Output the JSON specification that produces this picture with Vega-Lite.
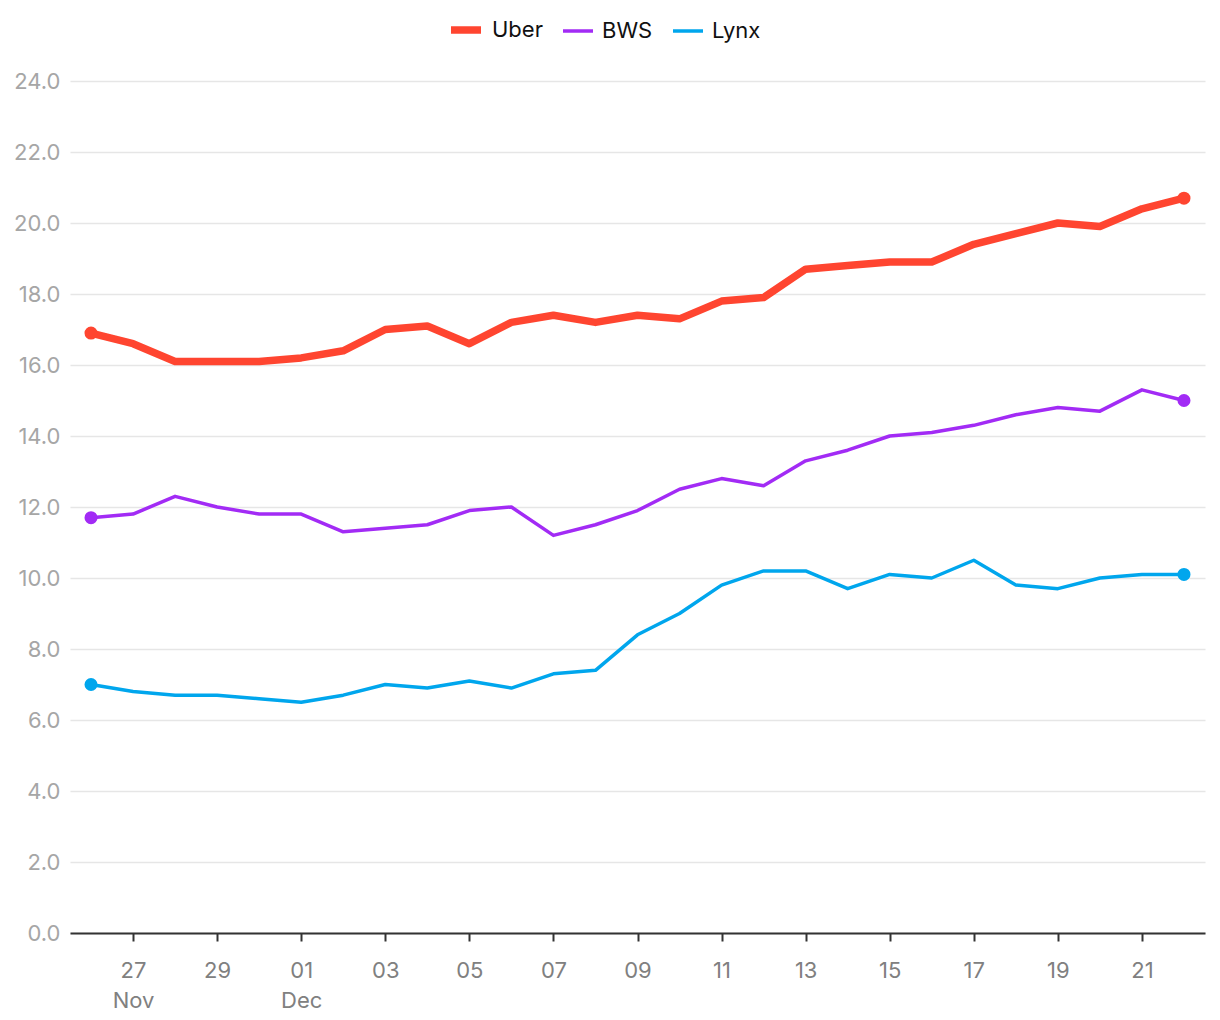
{
  "$schema": "https://vega.github.io/schema/vega-lite/v6.json",
  "width": 1135,
  "height": 852,
  "autosize": {"type": "none"},
  "padding": {"left": 70, "top": 81, "right": 15, "bottom": 87},
  "background": "white",
  "config": {
    "font": "Inter",
    "view": {"stroke": null}
  },
  "data": {
    "values": [
      {"date": "2023-11-26T00:00:00", "series": "Uber", "value": 16.9},
      {"date": "2023-11-27T00:00:00", "series": "Uber", "value": 16.6},
      {"date": "2023-11-28T00:00:00", "series": "Uber", "value": 16.1},
      {"date": "2023-11-29T00:00:00", "series": "Uber", "value": 16.1},
      {"date": "2023-11-30T00:00:00", "series": "Uber", "value": 16.1},
      {"date": "2023-12-01T00:00:00", "series": "Uber", "value": 16.2},
      {"date": "2023-12-02T00:00:00", "series": "Uber", "value": 16.4},
      {"date": "2023-12-03T00:00:00", "series": "Uber", "value": 17.0},
      {"date": "2023-12-04T00:00:00", "series": "Uber", "value": 17.1},
      {"date": "2023-12-05T00:00:00", "series": "Uber", "value": 16.6},
      {"date": "2023-12-06T00:00:00", "series": "Uber", "value": 17.2},
      {"date": "2023-12-07T00:00:00", "series": "Uber", "value": 17.4},
      {"date": "2023-12-08T00:00:00", "series": "Uber", "value": 17.2},
      {"date": "2023-12-09T00:00:00", "series": "Uber", "value": 17.4},
      {"date": "2023-12-10T00:00:00", "series": "Uber", "value": 17.3},
      {"date": "2023-12-11T00:00:00", "series": "Uber", "value": 17.8},
      {"date": "2023-12-12T00:00:00", "series": "Uber", "value": 17.9},
      {"date": "2023-12-13T00:00:00", "series": "Uber", "value": 18.7},
      {"date": "2023-12-14T00:00:00", "series": "Uber", "value": 18.8},
      {"date": "2023-12-15T00:00:00", "series": "Uber", "value": 18.9},
      {"date": "2023-12-16T00:00:00", "series": "Uber", "value": 18.9},
      {"date": "2023-12-17T00:00:00", "series": "Uber", "value": 19.4},
      {"date": "2023-12-18T00:00:00", "series": "Uber", "value": 19.7},
      {"date": "2023-12-19T00:00:00", "series": "Uber", "value": 20.0},
      {"date": "2023-12-20T00:00:00", "series": "Uber", "value": 19.9},
      {"date": "2023-12-21T00:00:00", "series": "Uber", "value": 20.4},
      {"date": "2023-12-22T00:00:00", "series": "Uber", "value": 20.7},
      {"date": "2023-11-26T00:00:00", "series": "BWS", "value": 11.7},
      {"date": "2023-11-27T00:00:00", "series": "BWS", "value": 11.8},
      {"date": "2023-11-28T00:00:00", "series": "BWS", "value": 12.3},
      {"date": "2023-11-29T00:00:00", "series": "BWS", "value": 12.0},
      {"date": "2023-11-30T00:00:00", "series": "BWS", "value": 11.8},
      {"date": "2023-12-01T00:00:00", "series": "BWS", "value": 11.8},
      {"date": "2023-12-02T00:00:00", "series": "BWS", "value": 11.3},
      {"date": "2023-12-03T00:00:00", "series": "BWS", "value": 11.4},
      {"date": "2023-12-04T00:00:00", "series": "BWS", "value": 11.5},
      {"date": "2023-12-05T00:00:00", "series": "BWS", "value": 11.9},
      {"date": "2023-12-06T00:00:00", "series": "BWS", "value": 12.0},
      {"date": "2023-12-07T00:00:00", "series": "BWS", "value": 11.2},
      {"date": "2023-12-08T00:00:00", "series": "BWS", "value": 11.5},
      {"date": "2023-12-09T00:00:00", "series": "BWS", "value": 11.9},
      {"date": "2023-12-10T00:00:00", "series": "BWS", "value": 12.5},
      {"date": "2023-12-11T00:00:00", "series": "BWS", "value": 12.8},
      {"date": "2023-12-12T00:00:00", "series": "BWS", "value": 12.6},
      {"date": "2023-12-13T00:00:00", "series": "BWS", "value": 13.3},
      {"date": "2023-12-14T00:00:00", "series": "BWS", "value": 13.6},
      {"date": "2023-12-15T00:00:00", "series": "BWS", "value": 14.0},
      {"date": "2023-12-16T00:00:00", "series": "BWS", "value": 14.1},
      {"date": "2023-12-17T00:00:00", "series": "BWS", "value": 14.3},
      {"date": "2023-12-18T00:00:00", "series": "BWS", "value": 14.6},
      {"date": "2023-12-19T00:00:00", "series": "BWS", "value": 14.8},
      {"date": "2023-12-20T00:00:00", "series": "BWS", "value": 14.7},
      {"date": "2023-12-21T00:00:00", "series": "BWS", "value": 15.3},
      {"date": "2023-12-22T00:00:00", "series": "BWS", "value": 15.0},
      {"date": "2023-11-26T00:00:00", "series": "Lynx", "value": 7.0},
      {"date": "2023-11-27T00:00:00", "series": "Lynx", "value": 6.8},
      {"date": "2023-11-28T00:00:00", "series": "Lynx", "value": 6.7},
      {"date": "2023-11-29T00:00:00", "series": "Lynx", "value": 6.7},
      {"date": "2023-11-30T00:00:00", "series": "Lynx", "value": 6.6},
      {"date": "2023-12-01T00:00:00", "series": "Lynx", "value": 6.5},
      {"date": "2023-12-02T00:00:00", "series": "Lynx", "value": 6.7},
      {"date": "2023-12-03T00:00:00", "series": "Lynx", "value": 7.0},
      {"date": "2023-12-04T00:00:00", "series": "Lynx", "value": 6.9},
      {"date": "2023-12-05T00:00:00", "series": "Lynx", "value": 7.1},
      {"date": "2023-12-06T00:00:00", "series": "Lynx", "value": 6.9},
      {"date": "2023-12-07T00:00:00", "series": "Lynx", "value": 7.3},
      {"date": "2023-12-08T00:00:00", "series": "Lynx", "value": 7.4},
      {"date": "2023-12-09T00:00:00", "series": "Lynx", "value": 8.4},
      {"date": "2023-12-10T00:00:00", "series": "Lynx", "value": 9.0},
      {"date": "2023-12-11T00:00:00", "series": "Lynx", "value": 9.8},
      {"date": "2023-12-12T00:00:00", "series": "Lynx", "value": 10.2},
      {"date": "2023-12-13T00:00:00", "series": "Lynx", "value": 10.2},
      {"date": "2023-12-14T00:00:00", "series": "Lynx", "value": 9.7},
      {"date": "2023-12-15T00:00:00", "series": "Lynx", "value": 10.1},
      {"date": "2023-12-16T00:00:00", "series": "Lynx", "value": 10.0},
      {"date": "2023-12-17T00:00:00", "series": "Lynx", "value": 10.5},
      {"date": "2023-12-18T00:00:00", "series": "Lynx", "value": 9.8},
      {"date": "2023-12-19T00:00:00", "series": "Lynx", "value": 9.7},
      {"date": "2023-12-20T00:00:00", "series": "Lynx", "value": 10.0},
      {"date": "2023-12-21T00:00:00", "series": "Lynx", "value": 10.1},
      {"date": "2023-12-22T00:00:00", "series": "Lynx", "value": 10.1}
    ]
  },
  "encoding": {
    "x": {
      "field": "date",
      "type": "temporal",
      "title": null,
      "scale": {
        "domain": [
          {"year": 2023, "month": 11, "date": 25, "hours": 12},
          {"year": 2023, "month": 12, "date": 22, "hours": 12}
        ]
      },
      "axis": {
        "grid": false,
        "tickCount": {"interval": "day", "step": 2},
        "domainColor": "#333333",
        "domainWidth": 2,
        "tickColor": "#333333",
        "tickWidth": 2,
        "tickSize": 8,
        "labelPadding": 19,
        "labelFontSize": 22,
        "labelColor": "#808080",
        "labelLineHeight": 30,
        "labelFlush": false,
        "labelOverlap": false,
        "labelExpr": "[timeFormat(datum.value, '%d'), ((date(datum.value) == 27 && month(datum.value) == 10) || date(datum.value) == 1) ? timeFormat(datum.value, '%b') : '']"
      }
    },
    "y": {
      "field": "value",
      "type": "quantitative",
      "title": null,
      "scale": {"domain": [0, 24]},
      "axis": {
        "values": [0, 2, 4, 6, 8, 10, 12, 14, 16, 18, 20, 22, 24],
        "format": ".1f",
        "domain": false,
        "ticks": false,
        "gridColor": "#e6e6e6",
        "gridWidth": 1.5,
        "labelFontSize": 22,
        "labelColor": "#a6a6a6",
        "labelPadding": 10
      }
    },
    "color": {
      "field": "series",
      "type": "nominal",
      "title": null,
      "scale": {
        "domain": ["Uber", "BWS", "Lynx"],
        "range": ["#ff4530", "#a22bf5", "#00a6ed"]
      },
      "legend": {
        "orient": "none",
        "legendX": 377,
        "legendY": -70,
        "direction": "horizontal",
        "symbolType": "stroke",
        "symbolSize": 900,
        "labelFontSize": 22,
        "labelColor": "#111111",
        "columnPadding": 13,
        "labelOffset": 7
      }
    }
  },
  "layer": [
    {
      "mark": {"type": "line", "strokeCap": "round", "strokeJoin": "round"},
      "encoding": {
        "strokeWidth": {
          "field": "series",
          "type": "nominal",
          "scale": {"type": "ordinal", "domain": ["Uber", "BWS", "Lynx"], "range": [7.5, 3.5, 3.5]},
          "legend": {
            "orient": "none",
            "legendX": 377,
            "legendY": -70,
            "direction": "horizontal",
            "symbolType": "stroke",
            "symbolSize": 900,
            "labelFontSize": 22,
            "labelColor": "#111111",
            "columnPadding": 13,
            "labelOffset": 7
          }
        }
      }
    },
    {
      "transform": [
        {"filter": "(date(datum.date) == 26 && month(datum.date) == 10) || (date(datum.date) == 22 && month(datum.date) == 11)"}
      ],
      "mark": {"type": "circle", "size": 170, "opacity": 1}
    }
  ]
}
